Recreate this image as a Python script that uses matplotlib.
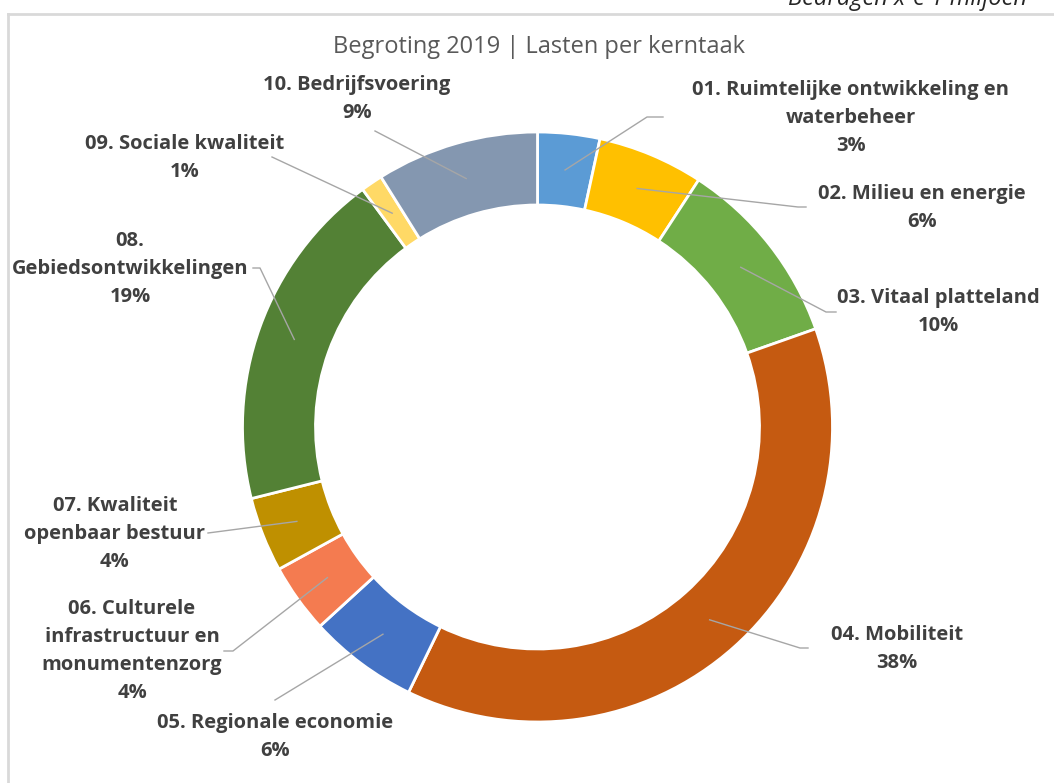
import numpy as np
import matplotlib
matplotlib.use("Agg")
import matplotlib.pyplot as plt
from matplotlib.lines import Line2D

# ---- data ----
categories = [
    "01. Ruimtelijke ontwikkeling en\nwaterbeheer",
    "02. Milieu en energie",
    "03. Vitaal platteland",
    "04. Mobiliteit",
    "05. Regionale economie",
    "06. Culturele\ninfrastructuur en\nmonumentenzorg",
    "07. Kwaliteit\nopenbaar bestuur",
    "08.\nGebiedsontwikkelingen",
    "09. Sociale kwaliteit",
    "10. Bedrijfsvoering",
]
shares = [3.4, 5.8, 10.4, 37.6, 6.0, 3.8, 4.1, 18.8, 1.2, 8.9]
colors = ["#5B9BD5", "#FFC000", "#70AD47", "#C55A11", "#4472C4",
          "#F47B50", "#BF9000", "#538135", "#FFD966", "#8497B0"]
title = "Begroting 2019 | Lasten per kerntaak"
note = "Bedragen x € 1 miljoen"

W, H = 1054, 783
fig = plt.figure(figsize=(W / 100, H / 100), dpi=100)
ax = fig.add_axes([0, 0, 1, 1])

def P(x, y):
    return x, H - y

cx, cy = 537.5, 427
R, ring = 295, 73
ax.pie(shares, colors=colors, startangle=90, counterclock=False,
       center=P(cx, cy), radius=R, frame=True,
       wedgeprops=dict(width=ring, edgecolor="white", linewidth=2))
ax.set_xlim(0, W)
ax.set_ylim(0, H)
ax.set_aspect("equal")
ax.axis("off")

# frame
ax.add_line(Line2D([8, W], [H - 14, H - 14], color="#D9D9D9", lw=2))
ax.add_line(Line2D([8, 8], [H - 14, 0], color="#D9D9D9", lw=2))

font = "Open Sans"
txtcol = "#404040"
ax.text(*P(539, 47), title, ha="center", va="center", fontsize=17,
        color="#595959", family=font)
ax.text(*P(1027, 5), note, ha="right", va="baseline", fontsize=17,
        style="italic", color="#262626", family=font)

# label layout (pixel coords): text centre, leader end, horizontal stub end
layout = [
    ((851, 118), (647, 117), (663, 117)),
    ((922, 208), (798, 207), (806, 207)),
    ((938, 312), (826, 312), (836, 312)),
    ((897, 649), (800, 648), (808, 648)),
    ((275, 737), (275, 700), None),
    ((132, 651), (233, 651), (224, 651)),
    ((115, 534), (208, 533), None),
    ((130, 269), (260, 268), (253, 268)),
    ((185, 158), (272, 157), None),
    ((357, 99), (375, 131), None),
]

total = sum(shares)
cum = np.cumsum([0] + shares)
rmid = R - ring / 2
for i, (cat, v) in enumerate(zip(categories, shares)):
    frac_mid = (cum[i] + v / 2) / total
    ang = np.deg2rad(90 - 360 * frac_mid)
    sx, sy = cx + rmid * np.cos(ang), cy - rmid * np.sin(ang)
    (tx, ty), (ex, ey), stub = layout[i]
    xs, ys = [sx, ex], [sy, ey]
    if stub is not None:
        xs.append(stub[0]); ys.append(stub[1])
    ax.add_line(Line2D(xs, [H - y for y in ys], color="#A6A6A6", lw=1))
    pct = f"{round(v / total * 100):d}%"
    ax.text(*P(tx, ty), f"{cat}\n{pct}", ha="center", va="center",
            multialignment="center", fontsize=14.5, fontweight="bold",
            color=txtcol, family=font, linespacing=1.55)

fig.savefig("out.png", dpi=100)
